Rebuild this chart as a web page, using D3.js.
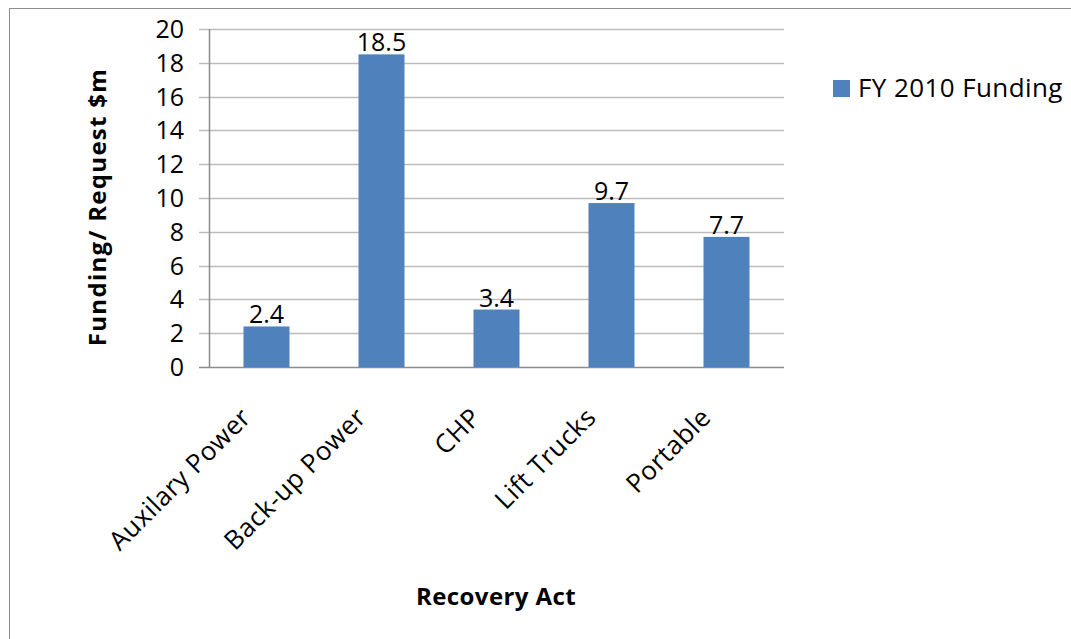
<!DOCTYPE html>
<meta charset="utf-8">
<style>
  body { margin: 0; background: #fff; }
  text { font-family: "Open Sans", sans-serif; fill: #000; }
  .tick-lbl { font-size: 25px; }
  .bar-lbl { font-size: 25px; }
  .cat-lbl { font-size: 26px; letter-spacing: 0.5px; }
  .title { font-weight: bold; }
  .legend-lbl { font-size: 26px; letter-spacing: 0.4px; }
</style>
<svg width="1071" height="639"></svg>
<script src="https://d3js.org/d3.v7.min.js"></script>
<script>
// data
var categories = ["Auxilary Power", "Back-up Power", "CHP", "Lift Trucks", "Portable"];
var funding = [2.4, 18.5, 3.4, 9.7, 7.7];
var yTicks = [0, 2, 4, 6, 8, 10, 12, 14, 16, 18, 20];
var seriesName = "FY 2010 Funding";

var svg = d3.select("svg");

// outer frame (only top + left visible in the picture)
svg.append("rect")
    .attr("x", 9.5).attr("y", 8.5)
    .attr("width", 1100).attr("height", 700)
    .attr("fill", "none")
    .attr("stroke", "#8c8c8c");

var plot = { left: 209, right: 784, top: 29, bottom: 367 };

var x = d3.scaleBand()
    .domain(categories)
    .range([plot.left, plot.right])
    .paddingInner(0.6)
    .paddingOuter(0.3);

var y = d3.scaleLinear()
    .domain([0, 20])
    .range([plot.bottom, plot.top]);

// gridlines + tick marks
svg.append("g")
  .selectAll("line")
  .data(yTicks)
  .enter().append("line")
    .attr("x1", plot.left - 10)
    .attr("x2", plot.right)
    .attr("y1", function(d) { return Math.round(y(d)) + 0.5; })
    .attr("y2", function(d) { return Math.round(y(d)) + 0.5; })
    .attr("stroke", function(d) { return d === 0 ? "#8c8c8c" : "#bcbcbc"; })
    .attr("stroke-width", 1.5);

// y axis line
svg.append("line")
    .attr("x1", plot.left + 0.5).attr("x2", plot.left + 0.5)
    .attr("y1", plot.top).attr("y2", plot.bottom)
    .attr("stroke", "#8c8c8c")
    .attr("stroke-width", 1.5);

// y tick labels
svg.append("g")
  .selectAll("text")
  .data(yTicks)
  .enter().append("text")
    .attr("class", "tick-lbl")
    .attr("x", plot.left - 25)
    .attr("y", function(d) { return y(d); })
    .attr("dy", "0.36em")
    .attr("text-anchor", "end")
    .text(function(d) { return d; });

// bars
var rows = categories.map(function(c, i) { return { cat: c, val: funding[i] }; });

svg.append("g")
  .selectAll("rect")
  .data(rows)
  .enter().append("rect")
    .attr("x", function(d) { return x(d.cat); })
    .attr("y", function(d) { return y(d.val); })
    .attr("width", x.bandwidth())
    .attr("height", function(d) { return y(0) - y(d.val); })
    .attr("fill", "#4f81bd");

// value labels
svg.append("g")
  .selectAll("text")
  .data(rows)
  .enter().append("text")
    .attr("class", "bar-lbl")
    .attr("x", function(d) { return x(d.cat) + x.bandwidth() / 2; })
    .attr("y", function(d) { return y(d.val) - 3; })
    .attr("text-anchor", "middle")
    .text(function(d) { return d.val; });

// category labels, rotated
svg.append("g")
  .selectAll("text")
  .data(categories)
  .enter().append("text")
    .attr("class", "cat-lbl")
    .attr("text-anchor", "end")
    .attr("transform", function(d) {
      var cx = x(d) + x.bandwidth() / 2 - 14;
      return "translate(" + cx + "," + (plot.bottom + 52) + ") rotate(-45)";
    })
    .text(function(d) { return d; });

// axis titles
svg.append("text")
    .attr("class", "title")
    .attr("text-anchor", "middle")
    .style("font-size", "24px")
    .style("letter-spacing", "1.3px")
    .attr("transform", "translate(106,207) rotate(-90)")
    .text("Funding/ Request $m");

svg.append("text")
    .attr("class", "title")
    .attr("text-anchor", "middle")
    .style("font-size", "24px")
    .style("letter-spacing", "0.4px")
    .attr("x", 496)
    .attr("y", 605)
    .text("Recovery Act");

// legend
var legend = svg.append("g").attr("transform", "translate(833,80)");
legend.append("rect")
    .attr("width", 17).attr("height", 17)
    .attr("fill", "#4f81bd");
legend.append("text")
    .attr("class", "legend-lbl")
    .attr("x", 25)
    .attr("y", 17)
    .text(seriesName);
</script>
